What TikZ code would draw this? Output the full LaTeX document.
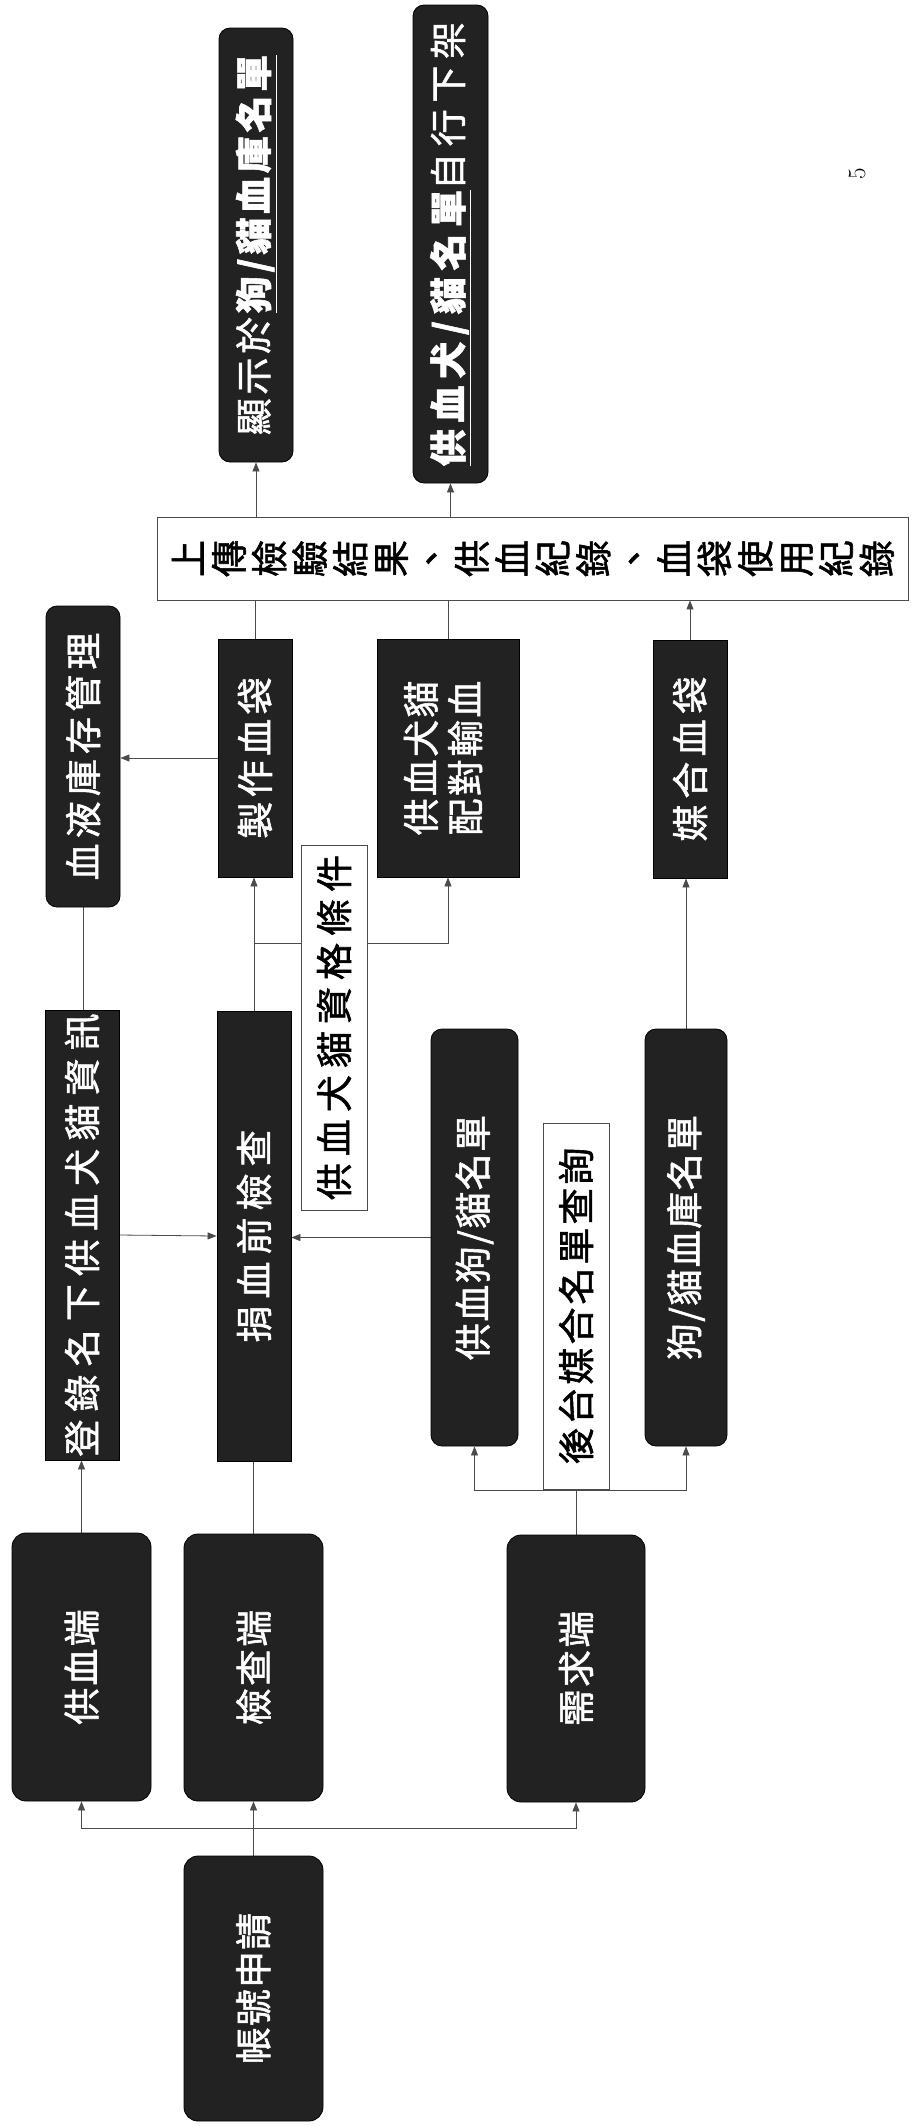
\documentclass[tikz,border=0pt]{standalone}
\usepackage{fontspec}
\usepackage{graphicx}
\newfontfamily\cjk[FakeBold=1.5]{Noto Sans CJK TC}
\usetikzlibrary{arrows.meta,backgrounds}
\definecolor{boxfill}{RGB}{34,34,34}
\definecolor{linegray}{RGB}{75,75,75}
\newcommand\rot[2]{\rotatebox{90}{\addfontfeature{LetterSpace=#1}#2}}
\newcommand\rc[1]{\makebox[40.5pt]{\rotatebox[origin=c]{90}{\raisebox{0pt}[0.88em][0.12em]{#1}}}}
\tikzset{
  darkbox/.style={fill=boxfill, draw=black, line width=0.8pt, inner sep=0pt, text=white,
    font=\cjk\fontsize{37}{40}\selectfont},
  roundbox/.style={darkbox, rounded corners=14pt},
  rectbox/.style={darkbox},
  whitebox/.style={fill=white, draw=linegray, line width=0.9pt, inner sep=0pt, text=black,
    font=\cjk\fontsize{37}{40}\selectfont},
  conn/.style={draw=linegray, line width=0.8pt},
  arr/.style={conn, -{Triangle[length=9pt,width=7pt]}},
}
\begin{document}
\begin{tikzpicture}[x=1pt,y=-1pt]
\useasboundingbox (0,0) rectangle (911,2126);
% nodes
\node[roundbox, minimum width=139pt, minimum height=265pt] (acct) at (253.5,1988.5) {\rot{3}{帳號申請}};
\node[roundbox, minimum width=139pt, minimum height=268pt] (sup) at (81.5,1667) {\rot{6}{供血端}};
\node[roundbox, minimum width=139pt, minimum height=267pt] (chk) at (253.5,1667.5) {\rot{6}{檢查端}};
\node[roundbox, minimum width=138pt, minimum height=267pt] (dem) at (576,1668.5) {\rot{6}{需求端}};
\node[rectbox, minimum width=74pt, minimum height=450pt] (reg) at (82,1235) {\rot{22}{登錄名下供血犬貓資訊}};
\node[rectbox, minimum width=74pt, minimum height=450pt] (pre) at (254,1236) {\rot{19}{捐血前檢查}};
\node[roundbox, rounded corners=11pt, minimum width=87pt, minimum height=417pt] (dlist) at (474.5,1237.5) {\rot{4}{供血狗/貓名單}};
\node[roundbox, rounded corners=11pt, minimum width=82pt, minimum height=417pt] (bank) at (686,1237.5) {\rot{4}{狗/貓血庫名單}};
\node[roundbox, rounded corners=11pt, minimum width=74pt, minimum height=301pt] (inv) at (83,756.5) {\rot{14}{血液庫存管理}};
\node[rectbox, minimum width=74pt, minimum height=238pt] (make) at (255,758) {\rot{12}{製作血袋}};
\node[rectbox, minimum width=142pt, minimum height=238pt] (match) at (448,758)
  {\rotatebox{90}{\fontsize{37}{43}\selectfont\addfontfeature{LetterSpace=6}\begin{tabular}{@{}c@{}}供血犬貓\\配對輸血\end{tabular}}};
\node[rectbox, minimum width=74pt, minimum height=238pt] (mbag) at (690,759) {\rot{15}{媒合血袋}};
\node[roundbox, rounded corners=11pt, minimum width=74pt, minimum height=434pt] (show) at (256,245)
  {\rot{10}{顯示於\textbf{\underline{狗/貓血庫名單}}}};
\node[roundbox, rounded corners=11pt, minimum width=75pt, minimum height=478pt] (off) at (450.5,244)
  {\rot{18}{\textbf{\underline{供血犬/貓名單}}自行下架}};
\node[whitebox, minimum width=751pt, minimum height=83pt] (up) at (532.5,558.5)
  {\rc{上}\rc{傳}\rc{檢}\rc{驗}\rc{結}\rc{果}\rc{、}\rc{供}\rc{血}\rc{紀}\rc{錄}\rc{、}\rc{血}\rc{袋}\rc{使}\rc{用}\rc{紀}\rc{錄}};
\node[font=\fontsize{25}{25}\selectfont] (pg) at (857,174) {\rotatebox{90}{5}};
% connectors
\begin{pgfonlayer}{background}
\fill[white] (0,0) rectangle (911,2126);
\coordinate (j1) at (253.5,1828);
\draw[conn] (acct.north) -- (j1);
\draw[arr] (j1) -| (sup.south);
\draw[arr] (j1) -- (chk.south);
\draw[arr] (j1) -| (dem.south);
\draw[arr] (sup.north) -- (sup.north |- reg.south);
\draw[conn] (chk.north) -- (chk.north |- pre.south);
\draw[arr] (reg.east) -- (pre.west);
\draw[arr] (dlist.west) -- (dlist.west -| pre.east);
\coordinate (j2) at (576,1490);
\draw[conn] (dem.north) -- (j2);
\draw[arr] (j2) -| (dlist.south);
\draw[arr] (j2) -| (bank.south);
\draw[arr] (bank.north) -- (bank.north |- mbag.south);
\coordinate (j3) at (254,943);
\draw[conn] (pre.north) -- (j3);
\draw[arr] (j3) -- (j3 |- make.south);
\draw[arr] (j3) -| (match.south);
\draw[arr] (make.west) -- (make.west -| inv.east);
\draw[conn] (inv.south) -- (inv.south |- reg.north);
\draw[conn] (make.north) -- (make.north |- up.south);
\draw[conn] (match.north) -- (match.north |- up.south);
\draw[arr] (mbag.north) -- (mbag.north |- up.south);
\draw[arr] (show.south |- up.north) -- (show.south);
\draw[arr] (off.south |- up.north) -- (off.south);
\end{pgfonlayer}
\node[whitebox, minimum width=66pt, minimum height=365pt] (qual) at (334,1027.5) {\rot{19}{供血犬貓資格條件}};
\node[whitebox, minimum width=66pt, minimum height=366pt] (query) at (576,1306) {\rot{8}{後台媒合名單查詢}};
\end{tikzpicture}
\end{document}
